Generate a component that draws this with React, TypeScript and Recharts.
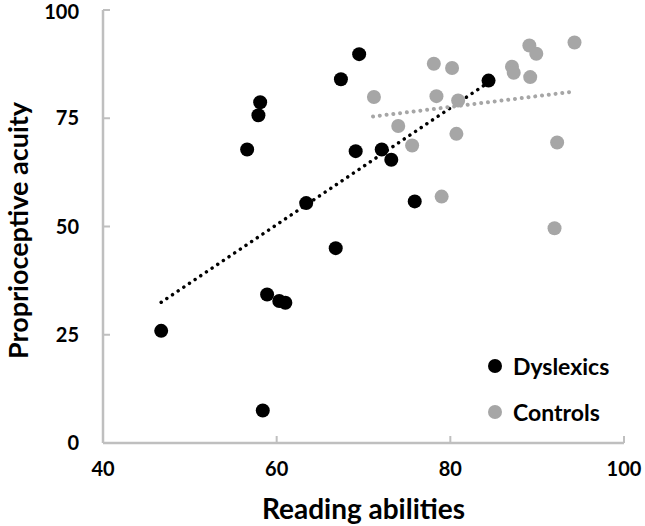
import React from "react";
import { Legend, Scatter, ScatterChart, XAxis, YAxis } from "recharts";

// values
const dyslexicReading = [46.7, 56.6, 57.9, 58.1, 58.4, 58.9, 60.3, 61.0, 63.4, 66.8, 67.4, 69.1, 69.5, 72.1, 73.2, 75.9, 84.4];
const dyslexicAcuity = [25.9, 67.8, 75.7, 78.7, 7.5, 34.3, 32.8, 32.4, 55.4, 45.0, 84.0, 67.4, 89.8, 67.8, 65.4, 55.8, 83.7];

const controlReading = [71.2, 74.0, 75.6, 78.1, 78.4, 79.0, 80.2, 80.7, 80.9, 87.1, 87.3, 89.1, 89.2, 89.9, 92.0, 92.3, 94.3];
const controlAcuity = [79.9, 73.2, 68.7, 87.6, 80.1, 56.9, 86.6, 71.4, 79.1, 86.9, 85.5, 91.8, 84.5, 89.9, 49.6, 69.4, 92.5];

// trendline end points as drawn
const dyslexicTrendX = [46.7, 84.4];
const dyslexicTrendY = [32.5, 83.3];
const controlTrendX = [71.1, 94.0];
const controlTrendY = [75.4, 81.1];

const xTicks = [40, 60, 80, 100];
const yTicks = [0, 25, 50, 75, 100];

const BLACK = "#000000";
const GRAY = "#a6a6a6";
const AXIS = "#bfbfbf";
const FONT = "Lato, 'Open Sans', sans-serif";

const zip = (xs: number[], ys: number[]) => xs.map((x, i) => ({ x, y: ys[i] }));

const dyslexics = zip(dyslexicReading, dyslexicAcuity);
const controls = zip(controlReading, controlAcuity);
const dyslexicTrend = zip(dyslexicTrendX, dyslexicTrendY);
const controlTrend = zip(controlTrendX, controlTrendY);

const dot = (fill: string) => (p: any) => <circle cx={p.cx} cy={p.cy} r={7} fill={fill} />;
const noDot = () => <g />;

const legendItems = [
  { name: "Dyslexics", color: BLACK },
  { name: "Controls", color: GRAY },
];

function LegendBox() {
  return (
    <div style={{ fontFamily: FONT, fontWeight: 700, fontSize: 23, color: "#000" }}>
      {legendItems.map((it) => (
        <div key={it.name} style={{ display: "flex", alignItems: "center", height: 46 }}>
          <svg width={16} height={16} style={{ marginRight: 10 }}>
            <circle cx={8} cy={8} r={7} fill={it.color} />
          </svg>
          {it.name}
        </div>
      ))}
    </div>
  );
}

export default function App() {
  const tickStyle = { fill: "#000", fontSize: 20, fontWeight: 700, fontFamily: FONT };
  return (
    <div style={{ position: "absolute", left: 0, top: 0, background: "#fff" }}>
      <ScatterChart width={645} height={526} margin={{ top: 10, right: 21, left: 0, bottom: 0 }}>
        <XAxis
          type="number"
          dataKey="x"
          domain={[40, 100]}
          ticks={xTicks}
          height={83}
          stroke={AXIS}
          axisLine={{ stroke: AXIS, strokeWidth: 2.5 }}
          tickLine={{ stroke: AXIS, strokeWidth: 2 }}
          tickSize={-7}
          tickMargin={26}
          tick={tickStyle}
          label={{
            value: "Reading abilities",
            position: "insideBottom",
            offset: 7,
            style: { fill: "#000", fontSize: 28, fontWeight: 700, fontFamily: FONT },
          }}
        />
        <YAxis
          type="number"
          dataKey="y"
          domain={[0, 100]}
          ticks={yTicks}
          width={103}
          stroke={AXIS}
          axisLine={{ stroke: AXIS, strokeWidth: 2.5 }}
          tickLine={{ stroke: AXIS, strokeWidth: 2 }}
          tickSize={-7}
          tickMargin={31}
          tick={tickStyle}
          label={{
            value: "Proprioceptive acuity",
            angle: -90,
            position: "center",
            dx: -33,
            dy: 4,
            style: { fill: "#000", fontSize: 27, fontWeight: 700, fontFamily: FONT, textAnchor: "middle" },
          }}
        />
        <Legend
          layout="vertical"
          verticalAlign="middle"
          align="center"
          content={() => <LegendBox />}
          wrapperStyle={{ left: 487, top: 343, width: 150 }}
        />
        <Scatter
          name="dyslexic trend"
          data={dyslexicTrend}
          legendType="none"
          shape={noDot}
          line={{ stroke: BLACK, strokeWidth: 3.5, strokeDasharray: "0.01 6.8", strokeLinecap: "round" }}
          isAnimationActive={false}
        />
        <Scatter
          name="Dyslexics"
          data={dyslexics}
          fill={BLACK}
          shape={dot(BLACK)}
          isAnimationActive={false}
        />
        <Scatter
          name="Controls"
          data={controls}
          fill={GRAY}
          shape={dot(GRAY)}
          isAnimationActive={false}
        />
        <Scatter
          name="control trend"
          data={controlTrend}
          legendType="none"
          shape={noDot}
          line={{ stroke: GRAY, strokeWidth: 4, strokeDasharray: "0.01 6.8", strokeLinecap: "round" }}
          isAnimationActive={false}
        />
      </ScatterChart>
    </div>
  );
}
